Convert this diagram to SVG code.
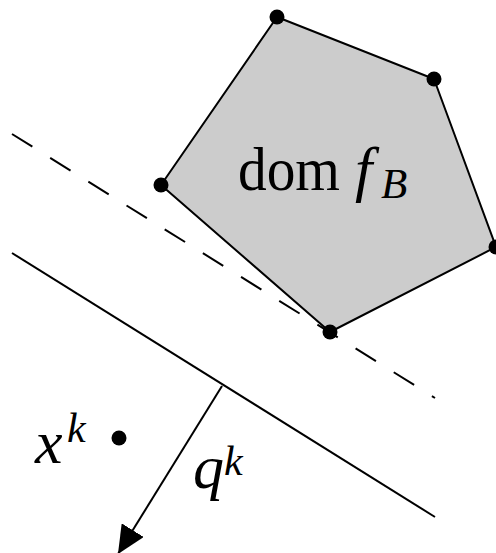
<svg xmlns="http://www.w3.org/2000/svg" width="496" height="553" viewBox="0 0 496 553">
<style>
.ln{stroke:#000;stroke-width:2;fill:none}
.dot{fill:#000}
.t{font-family:"Liberation Serif","Times New Roman",serif;fill:#000}
.i{font-style:italic}
</style>
<defs>
<marker id="ah" markerWidth="28" markerHeight="26" refX="28" refY="13" orient="auto" markerUnits="userSpaceOnUse">
<path d="M0,0 L28,13 L0,26 Z" fill="#000"/>
</marker>
</defs>
<g id="domain">
<polygon points="277,17 434,79 496,247 330,332 161,185" fill="#cccccc" stroke="#000" stroke-width="2" stroke-linejoin="round"/>
<circle class="dot" cx="277" cy="17" r="7.5"/>
<circle class="dot" cx="434" cy="79" r="7.5"/>
<circle class="dot" cx="496" cy="247" r="7.5"/>
<circle class="dot" cx="330" cy="332" r="7.5"/>
<circle class="dot" cx="161" cy="185" r="7.5"/>
<text class="t" x="238" y="190" font-size="62" textLength="102" lengthAdjust="spacingAndGlyphs">dom</text>
<text class="t i" x="355" y="190" font-size="62">f</text>
<text class="t i" x="381" y="198" font-size="43">B</text>
</g>
<g id="xk">
<circle class="dot" cx="119" cy="438" r="7.5"/>
<text class="t i" x="35" y="463" font-size="62">x</text>
<text class="t i" x="67" y="442" font-size="42">k</text>
</g>
<g id="connectors">
<line class="ln" x1="12" y1="134" x2="435" y2="398" stroke-dasharray="24,21"/>
<line class="ln" x1="12" y1="253" x2="435" y2="517"/>
<line class="ln" x1="222" y1="386" x2="118" y2="554" marker-end="url(#ah)"/>
</g>
<g id="qk">
<text class="t i" x="193" y="488" font-size="62">q</text>
<text class="t i" x="224" y="475" font-size="42">k</text>
</g>
</svg>
